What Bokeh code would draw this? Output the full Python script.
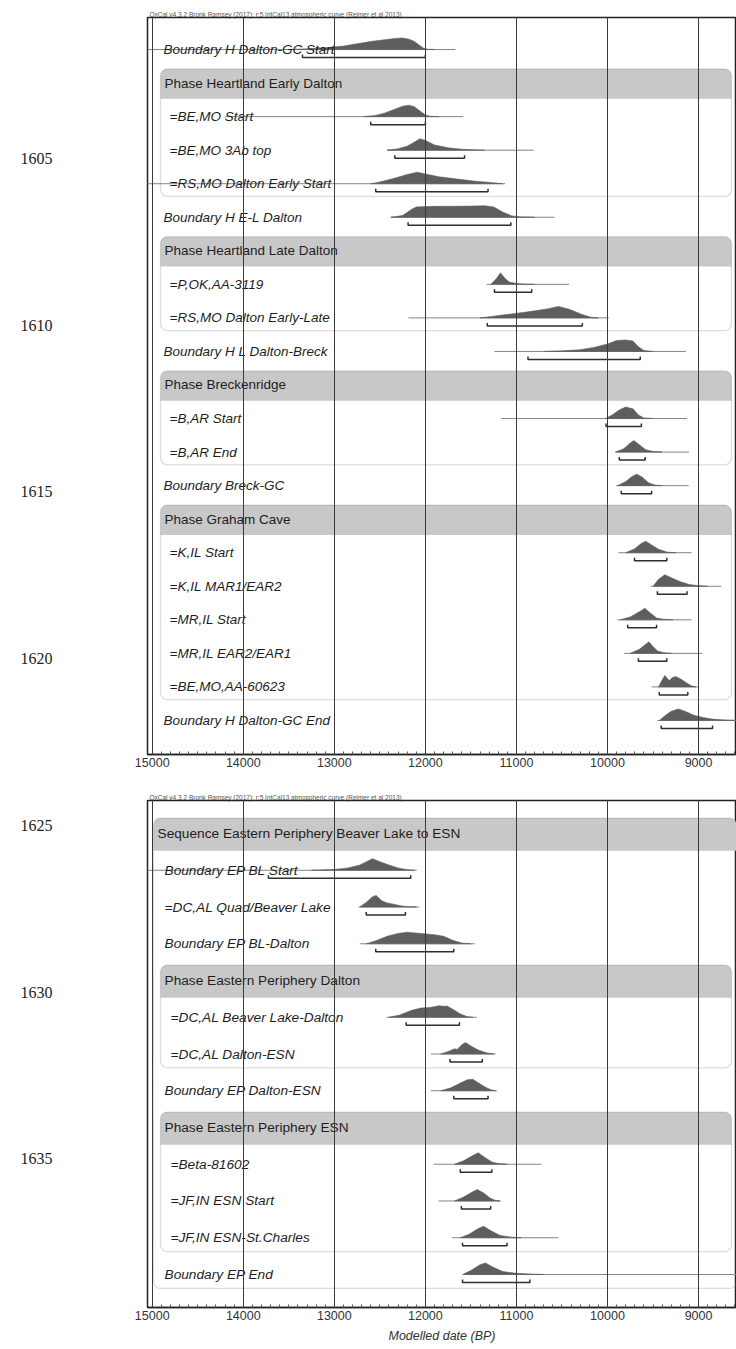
from bokeh.plotting import figure
from bokeh.models import Range1d, SingleIntervalTicker, BoxAnnotation
from bokeh.layouts import row, column
from bokeh.core.properties import value
from bokeh.embed import file_html
from bokeh.resources import INLINE

FONT = "Liberation Sans"
HEADER = "OxCal v4.3.2 Bronk Ramsey (2017); r:5 IntCal13 atmospheric curve (Reimer et al 2013)"
X_LABEL = "Modelled date (BP)"

# ---------------- data ----------------
line_numbers = ["1605", "1610", "1615", "1620", "1625", "1630", "1635"]

top_labels = [
    "Boundary H Dalton-GC Start", "Phase Heartland Early Dalton", "=BE,MO Start", "=BE,MO 3Ab top",
    "=RS,MO Dalton Early Start", "Boundary H E-L Dalton", "Phase Heartland Late Dalton", "=P,OK,AA-3119",
    "=RS,MO Dalton Early-Late", "Boundary H L Dalton-Breck", "Phase Breckenridge", "=B,AR Start",
    "=B,AR End", "Boundary Breck-GC", "Phase Graham Cave", "=K,IL Start", "=K,IL MAR1/EAR2",
    "=MR,IL Start", "=MR,IL EAR2/EAR1", "=BE,MO,AA-60623", "Boundary H Dalton-GC End",
]
top_kinds = ["b", "h", "d", "d", "d", "b", "h", "d", "d", "b", "h", "d", "d", "b", "h", "d", "d", "d", "d", "d", "b"]
top_groups = [(1, 4), (6, 8), (10, 12), (14, 19)]  # (header row, last row)

top_line_from = [15052, None, 14200, 12420, 15052, 12380, None, 11325, 12186, 11241, None, 11166, 9912, 9904,
                 None, 9879, 9527, 9891, 9820, 9515, 9452]
top_line_to = [11670, None, 11584, 10810, 11124, 10580, None, 10422, 9987, 9139, None, 9126, 9105, 9109,
               None, 9076, 8750, 9076, 8959, 8992, 8583]
top_range_from = [13350, None, 12600, 12336, 12545, 12190, None, 11241, 11320, 10873, None, 10016, 9870, 9849,
                  None, 9703, 9452, 9778, 9661, 9431, 9410]
top_range_to = [12000, None, 12000, 11570, 11312, 11061, None, 10832, 10276, 9640, None, 9628, 9586, 9515,
                None, 9348, 9126, 9461, 9348, 9118, 8846]
top_shape_x = [
    [13500, 13300, 13100, 12900, 12750, 12600, 12450, 12330, 12250, 12180, 12120, 12070, 12020, 11970, 11900],
    None,
    [12680, 12550, 12450, 12350, 12250, 12180, 12120, 12060, 12000, 11950, 11850],
    [12420, 12300, 12200, 12120, 12060, 12000, 11900, 11750, 11600, 11450, 11350],
    [12600, 12500, 12350, 12200, 12090, 12000, 11850, 11650, 11450, 11250, 11150],
    [12380, 12250, 12150, 12100, 11900, 11700, 11500, 11350, 11250, 11150, 11050, 10950, 10800],
    None,
    [11280, 11220, 11175, 11130, 11080, 11000, 10900, 10800],
    [11400, 11250, 11050, 10850, 10650, 10540, 10420, 10280, 10180, 10100],
    [10700, 10500, 10300, 10150, 10000, 9900, 9800, 9720, 9660, 9600, 9500],
    None,
    [10020, 9950, 9870, 9800, 9720, 9660, 9600, 9500],
    [9912, 9820, 9750, 9710, 9660, 9580, 9500, 9400],
    [9890, 9800, 9730, 9680, 9620, 9550, 9480, 9400],
    None,
    [9800, 9700, 9630, 9580, 9520, 9440, 9340, 9250],
    [9500, 9440, 9370, 9300, 9200, 9100, 9000, 8900],
    [9860, 9750, 9650, 9590, 9530, 9460, 9380, 9280],
    [9750, 9650, 9580, 9545, 9500, 9450, 9380, 9300],
    [9440, 9400, 9370, 9340, 9320, 9290, 9250, 9200, 9130, 9080, 9030],
    [9430, 9370, 9300, 9220, 9150, 9050, 8950, 8850, 8750, 8650, 8583],
]
top_shape_h = [
    [0, 0.06, 0.15, 0.3, 0.5, 0.7, 0.85, 0.97, 1.0, 0.9, 0.7, 0.4, 0.12, 0.02, 0],
    None,
    [0, 0.1, 0.3, 0.6, 0.9, 1.0, 0.85, 0.5, 0.15, 0.03, 0],
    [0, 0.12, 0.35, 0.7, 1.0, 0.85, 0.45, 0.2, 0.08, 0.02, 0],
    [0, 0.15, 0.45, 0.8, 1.0, 0.85, 0.6, 0.4, 0.22, 0.08, 0],
    [0, 0.15, 0.7, 0.9, 0.95, 0.95, 0.97, 1.0, 0.9, 0.45, 0.12, 0.03, 0],
    None,
    [0, 0.5, 1.0, 0.55, 0.2, 0.08, 0.02, 0],
    [0, 0.15, 0.35, 0.55, 0.8, 1.0, 0.75, 0.3, 0.05, 0],
    [0, 0.05, 0.15, 0.35, 0.65, 0.95, 1.0, 0.9, 0.4, 0.08, 0],
    None,
    [0, 0.3, 0.75, 1.0, 0.85, 0.3, 0.05, 0],
    [0, 0.3, 0.8, 1.0, 0.7, 0.2, 0.05, 0],
    [0, 0.35, 0.8, 1.0, 0.75, 0.25, 0.05, 0],
    None,
    [0, 0.35, 0.8, 1.0, 0.7, 0.3, 0.05, 0],
    [0, 0.6, 1.0, 0.75, 0.4, 0.15, 0.05, 0],
    [0, 0.25, 0.7, 1.0, 0.6, 0.15, 0.05, 0],
    [0, 0.35, 0.8, 1.0, 0.6, 0.2, 0.05, 0],
    [0, 0.6, 1.0, 0.7, 0.55, 0.8, 0.9, 0.7, 0.35, 0.1, 0],
    [0, 0.4, 0.8, 1.0, 0.8, 0.45, 0.25, 0.12, 0.06, 0.02, 0.01],
]

bot_labels = [
    "Sequence Eastern Periphery Beaver Lake to ESN", "Boundary EP BL Start", "=DC,AL Quad/Beaver Lake",
    "Boundary EP BL-Dalton", "Phase Eastern Periphery Dalton", "=DC,AL Beaver Lake-Dalton", "=DC,AL Dalton-ESN",
    "Boundary EP Dalton-ESN", "Phase Eastern Periphery ESN", "=Beta-81602", "=JF,IN ESN Start",
    "=JF,IN ESN-St.Charles", "Boundary EP End",
]
bot_kinds = ["s", "b", "ds", "b", "h", "d", "d", "b", "h", "d", "d", "d", "b"]
bot_groups = [(4, 6), (8, 11)]
bot_sequence = (0, 12)

bot_line_from = [None, 15052, 12733, 12721, None, 12428, 11939, 11939, None, 11910, 11856, 11709, 11584]
bot_line_to = [None, 12094, 12065, 11459, None, 11438, 11228, 11216, None, 10727, 11174, 10539, 8583]
bot_range_from = [None, 13724, 12650, 12545, None, 12211, 11730, 11688, None, 11617, 11605, 11592, 11592]
bot_range_to = [None, 12161, 12219, 11688, None, 11626, 11375, 11312, None, 11270, 11283, 11103, 10852]
bot_shape_x = [
    None,
    [13250, 13000, 12850, 12720, 12620, 12580, 12500, 12400, 12300, 12200, 12120],
    [12720, 12650, 12580, 12540, 12480, 12420, 12350, 12270, 12200, 12100],
    [12650, 12550, 12420, 12300, 12200, 12050, 11900, 11800, 11700, 11600, 11500],
    None,
    [12400, 12280, 12150, 12050, 11950, 11850, 11800, 11760, 11700, 11620, 11540, 11480],
    [11830, 11740, 11680, 11650, 11600, 11560, 11500, 11420, 11330, 11250],
    [11830, 11720, 11620, 11540, 11480, 11420, 11340, 11280, 11230],
    None,
    [11680, 11580, 11480, 11420, 11350, 11270, 11200, 11100],
    [11680, 11580, 11480, 11430, 11360, 11290, 11230, 11180],
    [11620, 11520, 11420, 11360, 11280, 11180, 11050, 10950],
    [11590, 11500, 11400, 11340, 11260, 11150, 11000, 10850, 10700],
]
bot_shape_h = [
    None,
    [0, 0.06, 0.2, 0.45, 0.85, 1.0, 0.75, 0.45, 0.2, 0.05, 0],
    [0, 0.4, 0.9, 1.0, 0.55, 0.35, 0.25, 0.1, 0.03, 0],
    [0, 0.25, 0.65, 0.9, 1.0, 0.9, 0.78, 0.65, 0.3, 0.06, 0],
    None,
    [0, 0.2, 0.6, 0.8, 0.85, 1.0, 0.95, 0.97, 0.7, 0.3, 0.05, 0],
    [0, 0.25, 0.45, 0.4, 0.8, 1.0, 0.7, 0.35, 0.1, 0],
    [0, 0.25, 0.65, 0.95, 1.0, 0.7, 0.3, 0.08, 0],
    None,
    [0, 0.3, 0.75, 1.0, 0.6, 0.2, 0.06, 0],
    [0, 0.35, 0.8, 1.0, 0.7, 0.25, 0.05, 0],
    [0, 0.3, 0.8, 1.0, 0.6, 0.2, 0.05, 0],
    [0, 0.35, 0.85, 1.0, 0.65, 0.25, 0.1, 0.04, 0],
]

# ---------------- layout ----------------
PAGE_X0, PAGE_Y0 = 0, 0
NUM_W = 131
PLOT_W = 605
BORDER_L = 16
X_START, X_END = 15052, 8583
FRAME_LEFT_PX = PAGE_X0 + NUM_W + BORDER_L
FRAME_W = PLOT_W - BORDER_L
PX_PER_YR = FRAME_W / (X_START - X_END)

TOP_H, BOT_H = 778, 571


def xpx(px):
    return X_START - (px - FRAME_LEFT_PX) / PX_PER_YR


FILL = "#5e5e5e"
THIN = "#858585"
BRACKET = "#2e2e2e"
BAND = "#c8c8c8"
BOXLINE = "#8c8c8c"
TEXTC = "#1e1e1e"


def make_fig(height, y_range, border_top, border_bottom):
    p = figure(width=PLOT_W, height=height, x_range=Range1d(X_START, X_END), y_range=y_range,
               output_backend="svg", toolbar_location=None, y_axis_location=None,
               min_border_left=BORDER_L, min_border_right=0, min_border_top=border_top,
               min_border_bottom=border_bottom, background_fill_color="white", border_fill_color="white")
    p.title.text = HEADER
    p.title.text_font = FONT
    p.title.text_font_size = "6.5px"
    p.title.text_font_style = "normal"
    p.title.text_color = "#555555"
    p.title.align = "left"
    p.title.standoff = 0
    p.title.offset = 2
    p.outline_line_color = "#222222"
    p.outline_line_width = 1.5
    tick = SingleIntervalTicker(interval=1000, num_minor_ticks=10)
    ax = p.xaxis[0]
    ax.ticker = tick
    ax.axis_line_color = "#222222"
    ax.axis_line_width = 1.5
    ax.major_tick_in = 6
    ax.major_tick_out = 0
    ax.minor_tick_in = 3
    ax.minor_tick_out = 0
    ax.major_tick_line_color = "#333333"
    ax.minor_tick_line_color = "#555555"
    ax.major_label_text_font = FONT
    ax.major_label_text_font_size = "12.5px"
    ax.major_label_text_color = "#333333"
    ax.major_label_standoff = 3
    p.xgrid.ticker = tick
    p.xgrid.grid_line_color = "#3a3a3a"
    p.xgrid.grid_line_width = 1
    p.xgrid.level = "overlay"
    p.ygrid.visible = False
    return p


def draw_panel(p, labels, kinds, lf, lt, rf, rt, sx, sh, groups, seq, text_px, font_size, row_px,
               box_left_px, box_right_px, seq_left_px):
    peak = 11.5 / row_px
    br_off = 8.0 / row_px
    br_tick = 3.0 / row_px
    rows = [i for i in range(len(labels)) if lf[i] is not None]

    def add_box(h, last, lpx, rpx):
        left, right = xpx(lpx), xpx(rpx)
        top, band_bot, bottom = h - 0.42, h + 0.47, last + 0.38
        p.add_layout(BoxAnnotation(left=left, right=right, top=top, bottom=band_bot, fill_color=BAND,
                                   fill_alpha=1, line_alpha=0, level="underlay",
                                   border_radius=dict(top_left=7, top_right=7, bottom_right=0, bottom_left=0)))
        p.add_layout(BoxAnnotation(left=left, right=right, top=top, bottom=bottom, fill_alpha=0,
                                   line_color=BOXLINE, line_width=1.3, level="underlay", border_radius=7))

    if seq is not None:
        add_box(seq[0], seq[1], seq_left_px, 736)
    for h, last in groups:
        add_box(h, last, box_left_px, box_right_px)

    p.segment(x0=[lf[i] for i in rows], y0=rows, x1=[lt[i] for i in rows], y1=rows,
              line_color=THIN, line_width=1)
    xs, ys = [], []
    for i in rows:
        xs.append(list(sx[i]))
        ys.append([i - h * peak for h in sh[i]])
    p.patches(xs, ys, fill_color=FILL, line_color=FILL, line_width=0.6)
    bx, by = [], []
    for i in rows:
        y = i + br_off
        bx.append([rf[i], rf[i], rt[i], rt[i]])
        by.append([y - br_tick, y, y, y - br_tick])
    p.multi_line(bx, by, line_color=BRACKET, line_width=1.5)
    for style, want in (("italic", ("b", "d", "ds")), ("normal", ("h", "s"))):
        idx = [i for i in range(len(labels)) if kinds[i] in want]
        p.text(x=[xpx(text_px[kinds[i]]) for i in idx], y=idx, text=[labels[i] for i in idx],
               text_font=value(FONT), text_font_size=font_size, text_font_style=style,
               text_color=TEXTC, text_baseline="middle", text_align="left")


# top panel: frame 17..754
top_rows = len(top_labels)
top = make_fig(TOP_H, Range1d(top_rows - 1 + 1.015, -0.955), 17, 24)
draw_panel(top, top_labels, top_kinds, top_line_from, top_line_to, top_range_from, top_range_to,
           top_shape_x, top_shape_h, top_groups, None,
           {"b": 163, "d": 169, "h": 164, "s": 157, "ds": 164}, "13.5px", 33.55, 160, 731, 153)

# bottom panel: frame 800..1307
bot_rows = len(bot_labels)
bot = make_fig(BOT_H, Range1d(bot_rows - 1 + 0.898, -0.898), 22, 42)
bot.xaxis.axis_label = X_LABEL
bot.xaxis.axis_label_text_font = FONT
bot.xaxis.axis_label_text_font_size = "12.5px"
bot.xaxis.axis_label_text_font_style = "italic"
bot.xaxis.axis_label_text_color = "#333333"
bot.xaxis.axis_label_standoff = 6
draw_panel(bot, bot_labels, bot_kinds, bot_line_from, bot_line_to, bot_range_from, bot_range_to,
           bot_shape_x, bot_shape_h, bot_groups, bot_sequence,
           {"b": 164, "d": 170, "h": 164, "s": 157, "ds": 164}, "13.7px", 36.75, 160, 731, 153)

# journal line numbers on the left
total_h = TOP_H + BOT_H
nums = figure(width=NUM_W, height=total_h, x_range=Range1d(PAGE_X0, PAGE_X0 + NUM_W),
              y_range=Range1d(PAGE_Y0 + total_h, PAGE_Y0), output_backend="svg", toolbar_location=None,
              x_axis_location=None, y_axis_location=None, min_border=0,
              background_fill_color="white", border_fill_color="white")
nums.outline_line_color = None
nums.xgrid.visible = False
nums.ygrid.visible = False
nums.text(x=[20] * len(line_numbers), y=[158 + 166.7 * i for i in range(len(line_numbers))], text=line_numbers,
          text_font=value("Liberation Serif"), text_font_size="16px", text_color="#222222",
          text_baseline="middle", text_align="left")

layout = row(nums, column(top, bot, spacing=0), spacing=0)
open("out.html", "w").write(file_html(layout, INLINE))
